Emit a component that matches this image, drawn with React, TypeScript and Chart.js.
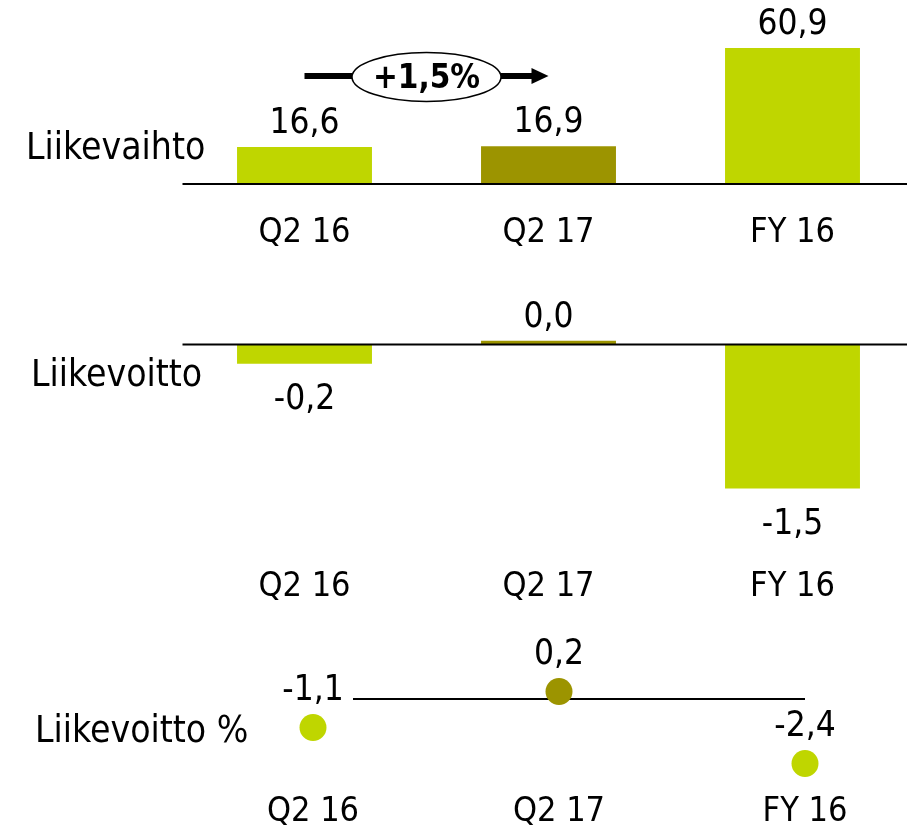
import React, { useEffect, useRef } from 'react';
import { Chart, registerables } from 'chart.js';

Chart.register(...registerables);

// ---- data ----
const categories = ['Q2 16', 'Q2 17', 'FY 16'];
const revenue = [16.6, 16.9, 60.9];
const operatingProfit = [-0.2, 0.04, -1.5];
const operatingMargin = [-1.1, 0.2, -2.4];
const barColors = ['#bfd600', '#9c9400', '#bfd600'];
const rowTitles = ['Liikevaihto', 'Liikevoitto', 'Liikevoitto %'];
const growthLabel = '+1,5%';

const FAMILY = "'DejaVu Sans Condensed', 'DejaVu Sans', sans-serif";
const VALUE_FONT = `35px ${FAMILY}`;
const CAT_FONT = `34px ${FAMILY}`;
const TITLE_FONT = `37px ${FAMILY}`;
const BOLD_FONT = `bold 33px ${FAMILY}`;

const fmt = (v: number) => v.toFixed(1).replace('.', ',');

const W = 930;
const H = 829;

function drawText(ctx: CanvasRenderingContext2D, str: string, x: number, y: number, font: string, align: CanvasTextAlign = 'center') {
  ctx.save();
  ctx.font = font;
  ctx.fillStyle = '#000';
  ctx.textAlign = align;
  ctx.textBaseline = 'alphabetic';
  ctx.fillText(str, x, y);
  ctx.restore();
}

function hline(ctx: CanvasRenderingContext2D, x1: number, x2: number, y: number, w = 2) {
  ctx.save();
  ctx.strokeStyle = '#000';
  ctx.lineWidth = w;
  ctx.beginPath();
  ctx.moveTo(x1, y);
  ctx.lineTo(x2, y);
  ctx.stroke();
  ctx.restore();
}

function barPlugin(values: number[], catY: number, title: string, titleX: number, titleY: number, withArrow: boolean) {
  return {
    id: 'barDeco',
    afterDatasetsDraw(chart: any) {
      const { ctx, chartArea, scales } = chart;
      const y0 = scales.y.getPixelForValue(0);
      hline(ctx, chartArea.left, chart.width, y0, 2);
      const meta = chart.getDatasetMeta(0);
      meta.data.forEach((el: any, i: number) => {
        const v = values[i];
        if (v >= 0) drawText(ctx, fmt(v), el.x, el.y - 14, VALUE_FONT);
        else drawText(ctx, fmt(v), el.x, el.y + 45, VALUE_FONT);
        drawText(ctx, categories[i], el.x, catY, CAT_FONT);
      });
      drawText(ctx, title, titleX, titleY, TITLE_FONT, 'left');
      if (withArrow) {
        const xa = scales.x.getPixelForValue(0);
        const xb = scales.x.getPixelForValue(1);
        const cx = (xa + xb) / 2;
        const rx = 74.5;
        const ry = 24.5;
        const ay = 76;
        ctx.save();
        ctx.strokeStyle = '#000';
        ctx.lineWidth = 6;
        ctx.beginPath();
        ctx.moveTo(xa, ay);
        ctx.lineTo(cx - rx, ay);
        ctx.moveTo(cx + rx, ay);
        ctx.lineTo(xb - 16, ay);
        ctx.stroke();
        ctx.fillStyle = '#000';
        ctx.beginPath();
        ctx.moveTo(xb - 17, ay - 8);
        ctx.lineTo(xb, ay);
        ctx.lineTo(xb - 17, ay + 8);
        ctx.closePath();
        ctx.fill();
        ctx.beginPath();
        ctx.ellipse(cx, 77, rx, ry, 0, 0, Math.PI * 2);
        ctx.fillStyle = '#fff';
        ctx.fill();
        ctx.lineWidth = 1.5;
        ctx.stroke();
        ctx.restore();
        drawText(ctx, growthLabel, cx, 88, BOLD_FONT);
      }
    },
  };
}

function dotPlugin(values: number[], catY: number, title: string, titleX: number, titleY: number) {
  return {
    id: 'dotDeco',
    beforeDatasetsDraw(chart: any) {
      const { ctx, scales } = chart;
      const y0 = scales.y.getPixelForValue(0) + 2;
      hline(ctx, scales.x.getPixelForValue(0) + 40, scales.x.getPixelForValue(2), y0, 2);
    },
    afterDatasetsDraw(chart: any) {
      const { ctx } = chart;
      const meta = chart.getDatasetMeta(0);
      meta.data.forEach((el: any, i: number) => {
        drawText(ctx, fmt(values[i]), el.x, el.y - 27, VALUE_FONT);
        drawText(ctx, categories[i], el.x, catY, CAT_FONT);
      });
      drawText(ctx, title, titleX, titleY, TITLE_FONT, 'left');
    },
  };
}

function baseOptions(padding: any, yMin: number, yMax: number): any {
  return {
    responsive: false,
    animation: false,
    events: [],
    layout: { padding, autoPadding: false },
    plugins: { legend: { display: false }, tooltip: { enabled: false } },
    scales: {
      x: { display: false, offset: true },
      y: { display: false, min: yMin, max: yMax },
    },
  };
}

export default function App() {
  const c1 = useRef<HTMLCanvasElement>(null);
  const c2 = useRef<HTMLCanvasElement>(null);
  const c3 = useRef<HTMLCanvasElement>(null);

  useEffect(() => {
    const charts: Chart[] = [];
    // Panel 1: Liikevaihto
    const k1 = 136 / 60.9;
    charts.push(
      new Chart(c1.current!, {
        type: 'bar',
        data: {
          labels: categories,
          datasets: [{ data: revenue, backgroundColor: barColors, barPercentage: 0.553, categoryPercentage: 1 }],
        },
        options: baseOptions({ left: 182.5, right: W - 914.5, top: 4, bottom: H - 184 }, 0, 180 / k1),
        plugins: [barPlugin(revenue, 242, rowTitles[0], 26, 159, true)],
      } as any)
    );
    // Panel 2: Liikevoitto
    const k2 = 96;
    const z2 = 344.5;
    charts.push(
      new Chart(c2.current!, {
        type: 'bar',
        data: {
          labels: categories,
          datasets: [{ data: operatingProfit, backgroundColor: barColors, barPercentage: 0.553, categoryPercentage: 1 }],
        },
        options: baseOptions({ left: 182.5, right: W - 914.5, top: 270, bottom: H - 540 }, -(540 - z2) / k2, (z2 - 270) / k2),
        plugins: [barPlugin(operatingProfit, 596, rowTitles[1], 31, 386, false)],
      } as any)
    );
    // Panel 3: Liikevoitto %
    const k3 = 27.7;
    const z3 = 697;
    charts.push(
      new Chart(c3.current!, {
        type: 'line',
        data: {
          labels: categories,
          datasets: [
            {
              data: operatingMargin,
              showLine: false,
              pointRadius: 13.5,
              pointBorderWidth: 0,
              pointBackgroundColor: barColors,
              pointBorderColor: barColors,
              clip: false,
            },
          ],
        },
        options: baseOptions({ left: 190, right: W - 928, top: 620, bottom: H - 790 }, -(790 - z3) / k3, (z3 - 620) / k3),
        plugins: [dotPlugin(operatingMargin, 821, rowTitles[2], 35, 742)],
      } as any)
    );
    return () => charts.forEach((c) => c.destroy());
  }, []);

  const cs: React.CSSProperties = { position: 'absolute', left: 0, top: 0, width: W, height: H };
  return (
    <div style={{ position: 'fixed', left: 0, top: 0, width: 907, height: 829, overflow: 'hidden', background: '#fff' }}>
      <canvas ref={c1} width={W} height={H} style={cs} />
      <canvas ref={c2} width={W} height={H} style={cs} />
      <canvas ref={c3} width={W} height={H} style={cs} />
    </div>
  );
}
